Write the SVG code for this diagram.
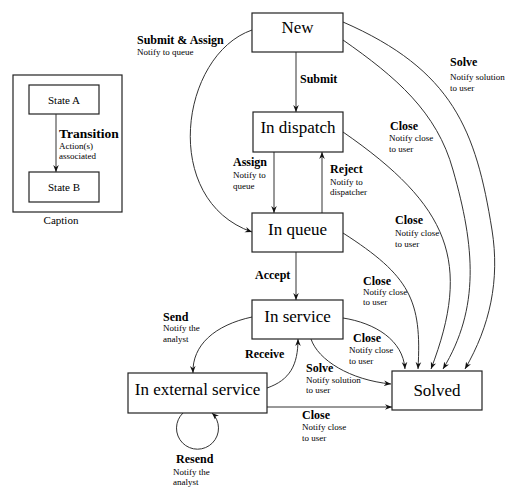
<svg xmlns="http://www.w3.org/2000/svg" width="505" height="487" viewBox="0 0 505 487">
<style>
text{font-family:"Liberation Serif","Times New Roman",serif;fill:#000}
.box{fill:#fff;stroke:#222;stroke-width:1.2}
.lbl{font-size:17px;text-anchor:middle}
.cl{font-size:11px;text-anchor:middle}
.b{font-size:12px;font-weight:bold}
.n{font-size:9px}
.e{fill:none;stroke:#333;stroke-width:1;marker-end:url(#ah)}
</style>
<defs>
<marker id="ah" viewBox="0 0 8 8" refX="8" refY="4" markerWidth="7" markerHeight="7" orient="auto" markerUnits="userSpaceOnUse">
<path d="M0,0.8 L8,4 L0,7.2 L2.5,4 z" fill="#111"/>
</marker>
</defs>
<rect x="0" y="0" width="505" height="487" fill="#fff"/>

<g id="caption">
<rect x="13" y="75" width="109" height="137" fill="none" stroke="#222" stroke-width="1.2"/>
<rect class="box" x="29" y="85" width="70" height="29"/>
<text class="cl" x="64" y="104">State A</text>
<rect class="box" x="29" y="172" width="70" height="30"/>
<text class="cl" x="64" y="191">State B</text>
<path class="e" d="M56,114 L56,172"/>
<text class="b" x="59" y="138" style="font-size:13.5px">Transition</text>
<text class="n" x="59" y="149">Action(s)</text>
<text class="n" x="59" y="159">associated</text>
<text class="cl" x="61" y="224">Caption</text>
</g>

<g id="connectors">
<path id="e-submit" class="e" d="M296,52 L296,112"/>
<path id="e-assign" class="e" d="M274,152 L274,213"/>
<path id="e-reject" class="e" d="M322,213 L322,152"/>
<path id="e-accept" class="e" d="M296,252 L296,300"/>
<path id="e-subassign" class="e" d="M252,30 C180,55 160,200 252,232"/>
<path id="e-new-solve" class="e" d="M343,22 C453,70 476,130 492,230 C500,280 490,326 465,369"/>
<path id="e-new-close" class="e" d="M343,40 C396,77 437,112 453,170 C475,247 480,308 443,369"/>
<path id="e-disp-close" class="e" d="M343,132 C450,206 472,262 431,369"/>
<path id="e-queue-close" class="e" d="M343,233 C410,276 422,300 418,369"/>
<path id="e-serv-close" class="e" d="M343,318 C375,323 403,340 405,369"/>
<path id="e-serv-solve" class="e" d="M311,339 C318,360 350,380 391,384"/>
<path id="e-ext-close" class="e" d="M267,407 L392,407"/>
<path id="e-send" class="e" d="M252,317 C215,325 192,345 193,373"/>
<path id="e-receive" class="e" d="M267,388 C290,380 298,365 298,339"/>
<path id="e-resend" class="e" d="M183,413 A21,21 0 1 0 212,413"/>
</g>

<g id="labels">
<text class="b" x="137" y="44">Submit &amp; Assign</text>
<text class="n" x="137" y="55">Notify to queue</text>
<text class="b" x="300" y="83">Submit</text>
<text class="b" x="233" y="166">Assign</text>
<text class="n" x="233" y="178">Notify to</text>
<text class="n" x="233" y="189">queue</text>
<text class="b" x="330" y="173">Reject</text>
<text class="n" x="330" y="185">Notify to</text>
<text class="n" x="330" y="195">dispatcher</text>
<text class="b" x="255" y="279">Accept</text>
<text class="b" x="450" y="66">Solve</text>
<text class="n" x="450" y="80">Notify solution</text>
<text class="n" x="450" y="91">to user</text>
<text class="b" x="390" y="130">Close</text>
<text class="n" x="389" y="141">Notify close</text>
<text class="n" x="389" y="152">to user</text>
<text class="b" x="395" y="224">Close</text>
<text class="n" x="395" y="236">Notify close</text>
<text class="n" x="395" y="247">to user</text>
<text class="b" x="363" y="285">Close</text>
<text class="n" x="363" y="295">Notify close</text>
<text class="n" x="363" y="305">to user</text>
<text class="b" x="353" y="342">Close</text>
<text class="n" x="349" y="353">Notify close</text>
<text class="n" x="349" y="364">to user</text>
<text class="b" x="163" y="321">Send</text>
<text class="n" x="163" y="331">Notify the</text>
<text class="n" x="163" y="342">analyst</text>
<text class="b" x="245" y="358">Receive</text>
<text class="b" x="306" y="372">Solve</text>
<text class="n" x="306" y="383">Notify solution</text>
<text class="n" x="306" y="393">to user</text>
<text class="b" x="302" y="419">Close</text>
<text class="n" x="302" y="430">Notify close</text>
<text class="n" x="302" y="441">to user</text>
<text class="b" x="176" y="463">Resend</text>
<text class="n" x="173" y="475">Notify the</text>
<text class="n" x="173" y="485">analyst</text>
</g>

<g id="new"><rect class="box" x="252" y="13" width="91" height="39"/><text class="lbl" x="297.5" y="33">New</text></g>
<g id="in-dispatch"><rect class="box" x="253" y="112" width="90" height="40"/><text class="lbl" x="298" y="133">In dispatch</text></g>
<g id="in-queue"><rect class="box" x="252" y="213" width="91" height="39"/><text class="lbl" x="297.5" y="235">In queue</text></g>
<g id="in-service"><rect class="box" x="252" y="300" width="91" height="39"/><text class="lbl" x="297.5" y="322">In service</text></g>
<g id="in-external-service"><rect class="box" x="128" y="373" width="139" height="40"/><text class="lbl" x="197.5" y="395">In external service</text></g>
<g id="solved"><rect class="box" x="392" y="371" width="90" height="39"/><text class="lbl" x="437" y="396">Solved</text></g>
</svg>
